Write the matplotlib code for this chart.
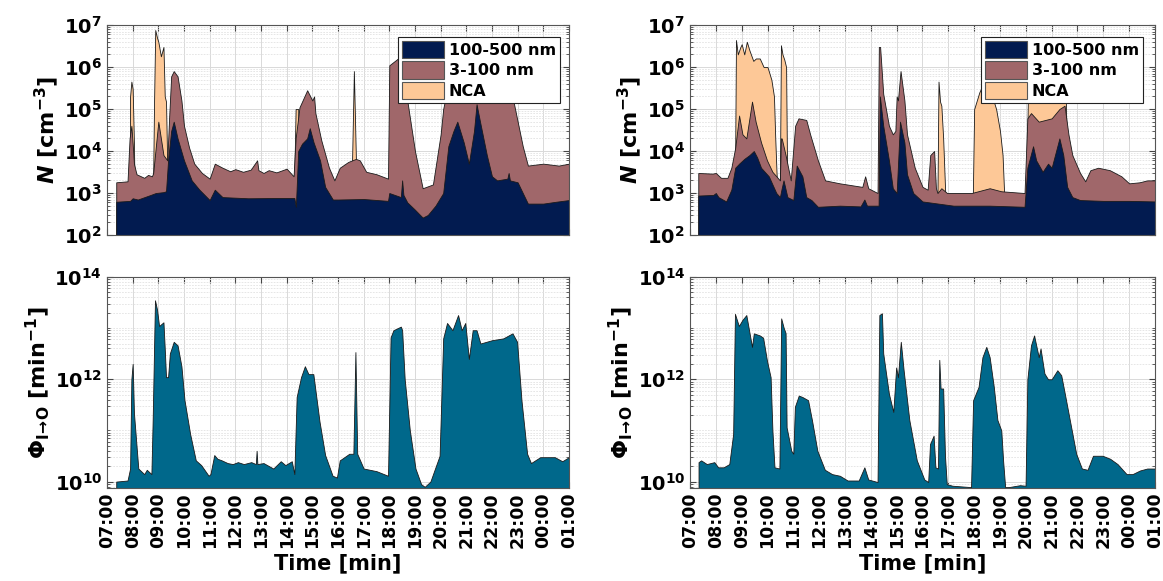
import numpy as np
import matplotlib
matplotlib.use("Agg")
import matplotlib.pyplot as plt
from matplotlib.patches import Patch
from matplotlib.ticker import LogLocator, FixedLocator, NullFormatter

plt.rcParams['font.family'] = ['DejaVu Sans']
plt.rcParams['font.weight'] = 'bold'
plt.rcParams['axes.labelweight'] = 'bold'
plt.rcParams['mathtext.fontset'] = 'custom'
plt.rcParams['mathtext.rm'] = 'DejaVu Sans:bold'
plt.rcParams['mathtext.bf'] = 'DejaVu Sans:bold'
plt.rcParams['mathtext.it'] = 'DejaVu Sans:italic:bold'

# ---- data (time in hours since 00:00, 25 = 01:00 next day) ----
# left run: stacked totals, N [cm^-3]
left_acc = [(7.36, 620), (7.9, 650), (8.0, 750), (8.2, 700), (8.7, 900), (8.9, 1000),
            (9.2, 1050), (9.3, 1100), (9.38, 6e3), (9.5, 3e4), (9.6, 5e4), (9.75, 2e4),
            (10.0, 6e3), (10.3, 2000), (10.6, 1200), (11.0, 680), (11.2, 1200), (11.5, 800),
            (12.5, 750), (13.5, 760), (14.3, 760), (14.36, 470), (14.45, 1e4), (14.6, 1.5e4),
            (14.8, 2e4), (14.9, 3.5e4), (15.05, 1.6e4), (15.3, 6e3), (15.5, 1400), (15.8, 700),
            (16.0, 700), (17.0, 720), (17.95, 650), (18.0, 1000), (18.45, 800), (18.5, 2000),
            (18.55, 900), (18.7, 600), (19.0, 400), (19.3, 260), (19.5, 300), (19.8, 500),
            (20.1, 1000), (20.3, 1.3e4), (20.5, 3e4), (20.65, 5e4), (20.9, 1.6e4), (21.1, 5e3),
            (21.3, 3e4), (21.4, 1.3e5), (21.55, 4.5e4), (21.8, 8e3), (22.0, 2500), (22.2, 2000),
            (22.6, 2200), (22.65, 3000), (22.7, 2000), (23.0, 1800), (23.4, 560), (24.0, 560),
            (24.5, 620), (25.0, 680)]
left_ultra = [(7.36, 1800), (7.8, 1900), (7.88, 2e4), (7.95, 4e4), (8.0, 1.5e4), (8.05, 5e3),
              (8.15, 2800), (8.45, 2300), (8.6, 2700), (8.75, 2500), (8.8, 3000), (9.0, 5e4),
              (9.2, 8e3), (9.35, 6e3), (9.42, 6e4), (9.5, 6e5), (9.6, 8e5), (9.75, 6e5),
              (9.9, 1.6e5), (10.0, 4e4), (10.2, 1.2e4), (10.4, 5e3), (10.7, 3000), (11.0, 2200),
              (11.2, 5e3), (11.5, 4e3), (11.8, 3300), (12.0, 3700), (12.3, 3200), (12.6, 3600),
              (12.85, 6e3), (12.9, 3500), (13.1, 3000), (13.3, 3500), (13.6, 3100), (14.0, 3800),
              (14.27, 2500), (14.35, 2e4), (14.5, 1.1e5),
              (14.8, 2.8e5), (15.0, 1.6e5), (15.07, 2e5), (15.12, 8e4), (15.35, 1.8e4),
              (15.65, 4e3), (15.86, 2000), (16.07, 4e3), (16.4, 5.5e3), (16.7, 6.5e3),
              (16.85, 6e3), (17.1, 3200), (17.5, 2800), (17.95, 2200), (18.0, 1.1e6),
              (18.45, 1.8e6), (18.55, 1.7e6), (18.7, 1.6e5), (19.0, 1e4), (19.3, 1300),
              (19.7, 1600), (20.0, 2.5e4), (20.1, 1e5), (20.3, 4e5), (22.7, 4e5), (22.9, 1e5),
              (23.2, 1.3e4), (23.4, 4500), (24.0, 5000), (24.6, 4500), (25.0, 5000)]
left_nca = [(7.36, 100), (7.88, 100), (7.9, 2e5), (7.95, 4.5e5), (8.0, 3e5), (8.05, 1.5e4),
            (8.1, 100), (8.75, 100), (8.8, 2500), (8.83, 1e5), (8.88, 7.6e6), (8.95, 5e6),
            (9.0, 4e6), (9.1, 1.8e6), (9.2, 3e6), (9.25, 2e5), (9.3, 1.5e5), (9.4, 100),
            (14.25, 100), (14.3, 3000), (14.35, 1e5), (14.45, 1e5), (14.5, 100), (16.5, 100),
            (16.55, 6e3), (16.62, 8e5), (16.7, 6e3), (16.75, 100), (25.0, 100)]

# right run
right_acc = [(7.32, 870), (7.9, 900), (8.0, 1000), (8.1, 800), (8.4, 630), (8.6, 1200),
             (8.75, 4000), (8.9, 5000), (9.1, 6500), (9.3, 8000), (9.47, 1e4), (9.6, 7000),
             (9.75, 4000), (10.05, 2500), (10.34, 1000), (10.48, 800), (10.55, 1300),
             (10.62, 2000), (10.77, 800), (11.0, 680), (11.13, 4500), (11.35, 2500),
             (11.5, 800), (11.7, 680), (11.95, 470), (12.8, 500), (13.6, 480), (13.75, 700),
             (13.85, 500), (14.26, 500), (14.3, 500), (14.35, 2e5), (14.48, 4e4), (14.7, 6e3),
             (14.85, 1300), (15.0, 1000), (15.13, 5e4), (15.3, 1.6e4), (15.4, 2800),
             (15.64, 1000), (16.0, 630), (17.2, 500), (18.6, 500), (19.95, 470), (20.06, 4000),
             (20.28, 1.3e4), (20.4, 6000), (20.65, 3200), (20.86, 5000), (21.0, 4000),
             (21.3, 2e4), (21.45, 8000), (21.6, 1400), (21.8, 800), (22.1, 680), (23.0, 650),
             (24.0, 650), (25.0, 630)]
right_ultra = [(7.32, 3000), (7.87, 2900), (8.0, 3000), (8.2, 2300), (8.45, 2300), (8.6, 4000),
               (8.75, 1.2e4), (8.9, 7e4), (9.03, 2.5e4), (9.18, 2e4), (9.4, 1.5e5), (9.54, 5e4),
               (9.75, 1.6e4), (9.98, 6e3), (10.19, 3200), (10.48, 2000), (10.52, 2e4),
               (10.55, 2e4), (10.7, 8000), (10.9, 2000), (11.07, 4e4), (11.2, 6e4),
               (11.5, 5.5e4), (11.65, 2.5e4), (11.95, 6e3), (12.23, 2000), (12.8, 1700),
               (13.67, 1400), (13.78, 2500), (13.9, 1300), (14.26, 1000), (14.31, 3e6),
               (14.36, 3e6), (14.48, 2.3e5), (14.7, 4e4), (14.85, 2.5e4), (14.95, 3e4),
               (15.0, 2e5), (15.05, 1.6e5), (15.15, 8e5), (15.3, 1.6e5), (15.4, 2.5e4),
               (15.7, 4e3), (16.0, 1400), (16.2, 1200), (16.3, 8000), (16.45, 1e4),
               (16.52, 1300), (16.58, 1000), (16.73, 1300), (16.95, 1000), (17.9, 1000),
               (18.6, 1300), (19.05, 1100), (19.95, 1000), (20.06, 6e4), (20.2, 8e4),
               (20.5, 5e4), (21.0, 6e4), (21.3, 1e5), (21.5, 1.2e5), (21.65, 2.5e4),
               (21.8, 8e3), (22.1, 3e3), (22.3, 1900), (22.5, 3500), (22.8, 4000),
               (23.25, 3500), (23.7, 2500), (24.0, 1700), (24.4, 1800), (24.7, 2000), (25.0, 2000)]
right_nca = [(7.32, 100), (8.7, 100), (8.75, 1.2e4), (8.78, 4.4e6), (8.85, 2e6), (8.95, 3e6),
             (9.0, 3.5e6), (9.1, 2e6), (9.2, 4e6), (9.3, 2.5e6), (9.45, 1.4e6), (9.55, 1.6e6),
             (9.7, 1.6e6), (9.85, 1e6), (10.0, 1e6), (10.15, 5e5), (10.25, 2e5), (10.3, 2e4),
             (10.35, 3000), (10.45, 100), (10.48, 2000), (10.52, 3.3e6), (10.58, 2e6),
             (10.65, 1.5e6), (10.72, 1e6), (10.78, 100), (16.5, 100), (16.58, 1000),
             (16.62, 4.5e5), (16.68, 1.5e5), (16.73, 1.2e5), (16.8, 2e4), (16.88, 1000),
             (16.95, 100), (17.9, 100), (17.95, 1000), (18.0, 1e5), (18.2, 2.5e5),
             (18.35, 4e5), (18.55, 1e6), (18.7, 2e5), (18.85, 1e5), (19.0, 3e4), (19.1, 8e3),
             (19.16, 1000), (19.25, 100), (20.0, 100), (20.08, 2e5), (20.2, 3e5),
             (20.35, 1.5e5), (20.5, 3e5), (20.7, 2e5), (20.9, 3e5), (21.1, 2.5e5),
             (21.3, 3e5), (21.45, 2e5), (21.55, 1.5e5), (21.65, 100), (25.0, 100)]

# Phi I->O [min^-1]
left_phi = [(7.36, 1.0e10), (7.8, 1.05e10), (7.9, 1.8e10), (7.95, 1e12), (8.0, 2e12),
            (8.05, 2.2e11), (8.22, 1.8e10), (8.45, 1.4e10), (8.55, 1.7e10), (8.73, 1.4e10),
            (8.78, 1.6e11), (8.87, 3.5e13), (8.95, 2.3e13), (9.03, 1.1e13), (9.2, 1.3e13),
            (9.25, 4e12), (9.3, 1.1e12), (9.38, 1.1e12), (9.45, 3.2e12), (9.6, 5.4e12),
            (9.75, 4.6e12), (9.9, 1.8e12), (10.02, 3.9e11), (10.24, 8.5e10), (10.46, 2.6e10),
            (10.67, 2.1e10), (10.96, 1.3e10), (11.03, 1.4e10), (11.18, 3.3e10), (11.3, 2.8e10),
            (11.47, 2.6e10), (11.7, 2.3e10), (11.9, 2.2e10), (12.1, 2.4e10), (12.33, 2.2e10),
            (12.62, 2.4e10), (12.8, 2.2e10), (12.83, 4e10), (12.86, 2.2e10), (13.1, 2.3e10),
            (13.48, 1.8e10), (13.77, 2.5e10), (13.95, 2.1e10), (14.2, 2.5e10), (14.3, 1.4e10),
            (14.39, 4.5e11), (14.56, 1.1e12), (14.71, 1.8e12), (14.85, 1.26e12), (15.04, 1.26e12),
            (15.1, 7.4e11), (15.28, 1.5e11), (15.5, 3.3e10), (15.79, 1.3e10), (15.96, 1.2e10),
            (16.07, 2.6e10), (16.44, 3.5e10), (16.6, 3.5e10), (16.68, 3.4e12), (16.75, 3.5e10),
            (17.0, 1.8e10), (17.5, 1.6e10), (17.95, 1.3e10), (18.05, 6.6e12), (18.16, 9.1e12),
            (18.45, 1.07e13), (18.5, 9.1e12), (18.6, 1e12), (18.8, 1e11), (19.02, 1.8e10),
            (19.24, 8.9e9), (19.38, 7.9e9), (19.6, 1e10), (19.96, 3.2e10), (20.1, 6.3e12),
            (20.25, 1.26e13), (20.46, 9.1e12), (20.68, 1.8e13), (20.82, 9.1e12), (20.96, 1.26e13),
            (21.1, 2.5e12), (21.25, 9.1e12), (21.4, 9.1e12), (21.55, 5e12), (22.0, 5.8e12),
            (22.44, 6.3e12), (22.8, 7.9e12), (22.98, 5.4e12), (23.15, 3.9e11), (23.37, 3.5e10),
            (23.52, 2.3e10), (23.88, 3e10), (24.45, 3e10), (24.74, 2.5e10), (25.0, 3e10)]
right_phi = [(7.33, 2.4e10), (7.43, 2.6e10), (7.65, 2.2e10), (7.94, 2.4e10), (8.09, 1.9e10),
             (8.3, 1.9e10), (8.52, 2.2e10), (8.67, 8.5e10), (8.74, 1.9e13), (8.89, 1.1e13),
             (9.03, 1.45e13), (9.18, 1.8e13), (9.4, 4.3e12), (9.47, 7.9e12), (9.7, 7.2e12),
             (9.83, 6.5e12), (9.98, 2.3e12), (10.12, 1.1e12), (10.19, 1e11), (10.27, 1.9e10),
             (10.46, 1.8e10), (10.53, 1.55e13), (10.63, 1e13), (10.7, 8e12), (10.74, 1.15e11),
             (10.92, 4e10), (11.0, 3.5e10), (11.06, 2.9e11), (11.21, 4.8e11), (11.35, 4.5e11),
             (11.57, 3.9e11), (11.72, 1.6e11), (11.93, 4e10), (12.22, 1.7e10), (12.5, 1.4e10),
             (12.8, 1.3e10), (13.1, 1.05e10), (13.53, 1.05e10), (13.75, 1.9e10), (13.9, 1.1e10),
             (14.26, 9.8e9), (14.33, 1.8e13), (14.43, 1.95e13), (14.48, 3.2e12), (14.7, 5.2e11),
             (14.87, 2.3e11), (14.98, 1.7e12), (15.05, 1.1e12), (15.16, 5.4e12), (15.27, 1.5e12),
             (15.49, 1.6e11), (15.78, 2.6e10), (16.07, 1.1e10), (16.22, 9.8e9), (16.29, 5.4e10),
             (16.43, 7.9e10), (16.5, 1.9e10), (16.6, 1.8e10), (16.65, 2.4e12), (16.7, 6.6e11),
             (16.8, 6.6e11), (16.87, 3.2e10), (16.94, 8.9e9), (17.16, 8.3e9), (17.88, 7.8e9),
             (17.96, 3.9e11), (18.17, 7.1e11), (18.32, 2.7e12), (18.47, 4.3e12), (18.6, 2.7e12),
             (18.76, 7.1e11), (18.9, 1.6e11), (19.05, 1e11), (19.12, 2.6e10), (19.2, 7.8e9),
             (19.34, 7.8e9), (19.77, 8.5e9), (19.99, 8.3e9), (20.06, 1e12), (20.2, 4.6e12),
             (20.32, 7.2e12), (20.5, 2.7e12), (20.57, 4e12), (20.72, 1.3e12), (20.86, 1e12),
             (21.0, 1e12), (21.22, 1.5e12), (21.37, 1.2e12), (21.51, 5.2e11), (21.73, 1.35e11),
             (21.95, 3.5e10), (22.17, 1.8e10), (22.39, 1.7e10), (22.6, 3.2e10), (22.97, 3.2e10),
             (23.26, 2.8e10), (23.55, 2.2e10), (23.9, 1.4e10), (24.13, 1.4e10), (24.42, 1.65e10),
             (24.7, 1.8e10), (25.0, 1.8e10)]

hours = list(range(7, 26))
labels = ["100-500 nm", "3-100 nm", "NCA"]
c_acc = '#021b50'
c_ultra = '#a0676a'
c_nca = '#fdc897'
c_phi = '#00688b'


def style_axes(ax, show_x):
    ax.set_xlim(7, 25)
    ax.set_xticks(hours)
    if show_x:
        ax.set_xticklabels(["%02d:00" % (h % 24) for h in hours], rotation=90)
        ax.set_xlabel("Time [min]", fontsize=15, labelpad=4)
    else:
        ax.set_xticklabels([])
    ax.tick_params(which='both', direction='in', top=True, right=True, color='#444444')
    ax.tick_params(axis='x', labelsize=12.5, pad=3)
    ax.tick_params(axis='y', labelsize=14)
    ax.tick_params(which='major', length=4)
    ax.tick_params(which='minor', length=2)
    ax.grid(True, which='major', color='#d9d9d9', lw=0.7)
    ax.grid(True, which='minor', axis='y', color='#e2e2e2', ls=(0, (2, 1.5)), lw=0.6)
    ax.set_axisbelow(True)
    for s in ax.spines.values():
        s.set_color('#555555')
        s.set_linewidth(0.8)


def plot_stack(ax, acc, ultra, nca, legend_x):
    for series, col in [(nca, c_nca), (ultra, c_ultra), (acc, c_acc)]:
        t, v = np.array(series).T
        ax.fill_between(t, v, 1e1, facecolor=col, edgecolor='#1a1a1a', lw=0.6)
    ax.set_yscale('log')
    ax.set_ylim(1e2, 1e7)
    ax.yaxis.set_major_locator(LogLocator(base=10, numticks=10))
    ax.yaxis.set_minor_locator(LogLocator(base=10, subs=np.arange(2, 10), numticks=10))
    ax.yaxis.set_minor_formatter(NullFormatter())
    ax.set_ylabel(r'$N$ [cm$^{-3}$]', fontsize=16, labelpad=2)
    style_axes(ax, False)
    handles = [Patch(facecolor=c, edgecolor='#555555', lw=0.8)
               for c in (c_acc, c_ultra, c_nca)]
    leg = ax.legend(handles, labels, loc='upper right', bbox_to_anchor=(legend_x, 0.945),
                    borderaxespad=0, fontsize=11.5, fancybox=False, framealpha=1,
                    edgecolor='#222222', handlelength=2.6, handleheight=1.3,
                    borderpad=0.25, labelspacing=0.2, handletextpad=0.3)
    leg.get_frame().set_linewidth(0.8)


def plot_phi(ax, phi):
    t, v = np.array(phi).T
    ax.fill_between(t, v, 1e9, facecolor=c_phi, edgecolor='#1a1a1a', lw=0.6)
    ax.set_yscale('log')
    ax.set_ylim(7.5e9, 1e14)
    ax.yaxis.set_major_locator(FixedLocator([1e10, 1e12, 1e14]))
    ax.yaxis.set_minor_locator(LogLocator(base=10, subs=np.arange(1, 10), numticks=20))
    ax.yaxis.set_minor_formatter(NullFormatter())
    ax.set_ylabel(r'$\Phi_{\mathrm{I}\!\rightarrow\!\mathrm{O}}$ [min$^{-1}$]',
                  fontsize=16, labelpad=2)
    style_axes(ax, True)


fig = plt.figure(figsize=(11.63, 5.81), dpi=100)
ax_tl = fig.add_axes([0.0920, 0.5955, 0.3972, 0.3614])
ax_bl = fig.add_axes([0.0920, 0.1601, 0.3972, 0.3632])
ax_tr = fig.add_axes([0.5933, 0.5955, 0.3998, 0.3614])
ax_br = fig.add_axes([0.5933, 0.1601, 0.3998, 0.3632])

plot_stack(ax_tl, left_acc, left_ultra, left_nca, 0.98)
plot_stack(ax_tr, right_acc, right_ultra, right_nca, 0.974)
plot_phi(ax_bl, left_phi)
plot_phi(ax_br, right_phi)

fig.savefig("out.png", dpi=100)
